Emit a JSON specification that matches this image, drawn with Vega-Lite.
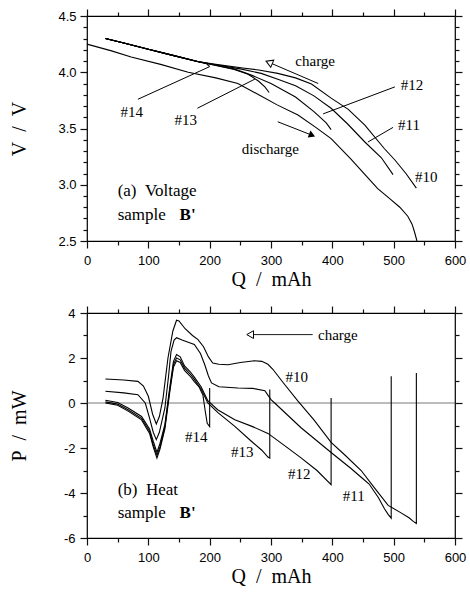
{
  "$schema": "https://vega.github.io/schema/vega-lite/v6.json",
  "background": "white",
  "padding": {"left": 8, "top": 7, "right": 5, "bottom": 5},
  "spacing": 14,
  "config": {
    "view": {"stroke": "black", "strokeWidth": 1.2, "fill": "transparent"},
    "axis": {
      "domain": false, "grid": false,
      "labelFont": "Liberation Sans", "labelFontSize": 13, "labelColor": "black",
      "labelFlush": false, "labelOverlap": false,
      "titleFont": "Liberation Serif", "titleFontSize": 20, "titleFontWeight": "normal", "titleColor": "black"
    },
    "text": {"font": "Liberation Serif", "color": "black"}
  },
  "datasets": {
    "volt": [
      {"s":"#14","Q":30,"V":4.30},{"s":"#14","Q":60,"V":4.26},{"s":"#14","Q":100,"V":4.205},{"s":"#14","Q":140,"V":4.15},{"s":"#14","Q":180,"V":4.095},{"s":"#14","Q":195,"V":4.075},{"s":"#14","Q":200,"V":4.05},
      {"s":"#13","Q":30,"V":4.30},{"s":"#13","Q":60,"V":4.26},{"s":"#13","Q":100,"V":4.205},{"s":"#13","Q":140,"V":4.15},{"s":"#13","Q":180,"V":4.095},{"s":"#13","Q":210,"V":4.06},{"s":"#13","Q":240,"V":4.025},{"s":"#13","Q":262,"V":3.985},{"s":"#13","Q":280,"V":3.92},{"s":"#13","Q":290,"V":3.87},{"s":"#13","Q":297,"V":3.82},
      {"s":"#12","Q":30,"V":4.30},{"s":"#12","Q":60,"V":4.26},{"s":"#12","Q":100,"V":4.205},{"s":"#12","Q":140,"V":4.15},{"s":"#12","Q":180,"V":4.095},{"s":"#12","Q":210,"V":4.063},{"s":"#12","Q":240,"V":4.03},{"s":"#12","Q":270,"V":3.97},{"s":"#12","Q":300,"V":3.90},{"s":"#12","Q":340,"V":3.78},{"s":"#12","Q":370,"V":3.65},{"s":"#12","Q":390,"V":3.55},{"s":"#12","Q":398,"V":3.49},
      {"s":"#11","Q":30,"V":4.30},{"s":"#11","Q":60,"V":4.26},{"s":"#11","Q":100,"V":4.205},{"s":"#11","Q":140,"V":4.15},{"s":"#11","Q":180,"V":4.095},{"s":"#11","Q":210,"V":4.066},{"s":"#11","Q":250,"V":4.03},{"s":"#11","Q":284,"V":3.99},{"s":"#11","Q":310,"V":3.94},{"s":"#11","Q":340,"V":3.88},{"s":"#11","Q":370,"V":3.79},{"s":"#11","Q":398,"V":3.68},{"s":"#11","Q":425,"V":3.54},{"s":"#11","Q":453,"V":3.38},{"s":"#11","Q":480,"V":3.24},{"s":"#11","Q":499,"V":3.09},
      {"s":"#10","Q":30,"V":4.30},{"s":"#10","Q":60,"V":4.26},{"s":"#10","Q":100,"V":4.205},{"s":"#10","Q":140,"V":4.15},{"s":"#10","Q":180,"V":4.095},{"s":"#10","Q":210,"V":4.07},{"s":"#10","Q":257,"V":4.035},{"s":"#10","Q":280,"V":4.02},{"s":"#10","Q":311,"V":3.99},{"s":"#10","Q":340,"V":3.95},{"s":"#10","Q":366,"V":3.895},{"s":"#10","Q":398,"V":3.77},{"s":"#10","Q":426,"V":3.67},{"s":"#10","Q":453,"V":3.53},{"s":"#10","Q":485,"V":3.32},{"s":"#10","Q":502,"V":3.22},{"s":"#10","Q":520,"V":3.10},{"s":"#10","Q":537,"V":2.97},
      {"s":"discharge","Q":0,"V":4.25},{"s":"discharge","Q":40,"V":4.19},{"s":"discharge","Q":72,"V":4.135},{"s":"discharge","Q":120,"V":4.07},{"s":"discharge","Q":165,"V":4.0},{"s":"discharge","Q":210,"V":3.95},{"s":"discharge","Q":246,"V":3.90},{"s":"discharge","Q":280,"V":3.80},{"s":"discharge","Q":310,"V":3.71},{"s":"discharge","Q":344,"V":3.62},{"s":"discharge","Q":373,"V":3.51},{"s":"discharge","Q":398,"V":3.41},{"s":"discharge","Q":430,"V":3.23},{"s":"discharge","Q":474,"V":2.965},{"s":"discharge","Q":495,"V":2.87},{"s":"discharge","Q":510,"V":2.80},{"s":"discharge","Q":523,"V":2.72},{"s":"discharge","Q":530,"V":2.65},{"s":"discharge","Q":534,"V":2.58},{"s":"discharge","Q":537,"V":2.52},{"s":"discharge","Q":538,"V":2.5}
    ],
    "heat": [
      {"s":"#10","Q":30,"P":1.07},{"s":"#10","Q":60,"P":1.02},{"s":"#10","Q":83,"P":0.96},{"s":"#10","Q":92,"P":0.75},{"s":"#10","Q":100,"P":0.3},{"s":"#10","Q":107,"P":-0.5},{"s":"#10","Q":113,"P":-0.93},{"s":"#10","Q":118,"P":-0.6},{"s":"#10","Q":124,"P":0.22},{"s":"#10","Q":132,"P":2.0},{"s":"#10","Q":140,"P":3.2},{"s":"#10","Q":146,"P":3.68},{"s":"#10","Q":150,"P":3.65},{"s":"#10","Q":160,"P":3.3},{"s":"#10","Q":172,"P":3.0},{"s":"#10","Q":181,"P":2.82},{"s":"#10","Q":190,"P":2.5},{"s":"#10","Q":198,"P":2.05},{"s":"#10","Q":205,"P":1.78},{"s":"#10","Q":215,"P":1.72},{"s":"#10","Q":230,"P":1.70},{"s":"#10","Q":250,"P":1.80},{"s":"#10","Q":273,"P":1.88},{"s":"#10","Q":285,"P":1.85},{"s":"#10","Q":295,"P":1.72},{"s":"#10","Q":303,"P":1.5},{"s":"#10","Q":320,"P":0.9},{"s":"#10","Q":344,"P":0.08},{"s":"#10","Q":370,"P":-0.75},{"s":"#10","Q":398,"P":-1.75},{"s":"#10","Q":420,"P":-2.3},{"s":"#10","Q":447,"P":-3.0},{"s":"#10","Q":469,"P":-3.78},{"s":"#10","Q":491,"P":-4.55},{"s":"#10","Q":510,"P":-4.85},{"s":"#10","Q":525,"P":-5.1},{"s":"#10","Q":532,"P":-5.26},{"s":"#10","Q":537,"P":-5.35},{"s":"#10","Q":537,"P":1.33},
      {"s":"#11","Q":30,"P":0.52},{"s":"#11","Q":60,"P":0.45},{"s":"#11","Q":83,"P":0.37},{"s":"#11","Q":95,"P":0.0},{"s":"#11","Q":102,"P":-0.67},{"s":"#11","Q":108,"P":-1.3},{"s":"#11","Q":113,"P":-1.63},{"s":"#11","Q":118,"P":-1.3},{"s":"#11","Q":127,"P":-0.22},{"s":"#11","Q":133,"P":1.2},{"s":"#11","Q":137,"P":2.3},{"s":"#11","Q":142,"P":2.8},{"s":"#11","Q":146,"P":2.9},{"s":"#11","Q":155,"P":2.8},{"s":"#11","Q":165,"P":2.7},{"s":"#11","Q":175,"P":2.6},{"s":"#11","Q":185,"P":2.2},{"s":"#11","Q":192,"P":1.7},{"s":"#11","Q":198,"P":1.2},{"s":"#11","Q":203,"P":0.89},{"s":"#11","Q":215,"P":0.72},{"s":"#11","Q":246,"P":0.67},{"s":"#11","Q":270,"P":0.65},{"s":"#11","Q":290,"P":0.55},{"s":"#11","Q":300,"P":0.15},{"s":"#11","Q":306,"P":0.0},{"s":"#11","Q":349,"P":-1.1},{"s":"#11","Q":398,"P":-2.2},{"s":"#11","Q":430,"P":-2.9},{"s":"#11","Q":447,"P":-3.3},{"s":"#11","Q":460,"P":-3.6},{"s":"#11","Q":475,"P":-4.2},{"s":"#11","Q":485,"P":-4.7},{"s":"#11","Q":491,"P":-4.95},{"s":"#11","Q":496,"P":-5.12},{"s":"#11","Q":496,"P":1.19},
      {"s":"#12","Q":30,"P":0.12},{"s":"#12","Q":50,"P":0.02},{"s":"#12","Q":67,"P":-0.22},{"s":"#12","Q":89,"P":-0.6},{"s":"#12","Q":102,"P":-1.15},{"s":"#12","Q":108,"P":-1.7},{"s":"#12","Q":114,"P":-2.2},{"s":"#12","Q":119,"P":-1.8},{"s":"#12","Q":127,"P":-0.95},{"s":"#12","Q":135,"P":0.7},{"s":"#12","Q":141,"P":1.85},{"s":"#12","Q":146,"P":2.15},{"s":"#12","Q":152,"P":2.05},{"s":"#12","Q":159,"P":1.65},{"s":"#12","Q":168,"P":1.4},{"s":"#12","Q":175,"P":1.15},{"s":"#12","Q":186,"P":0.72},{"s":"#12","Q":197,"P":0.1},{"s":"#12","Q":213,"P":-0.3},{"s":"#12","Q":241,"P":-0.74},{"s":"#12","Q":270,"P":-1.05},{"s":"#12","Q":295,"P":-1.35},{"s":"#12","Q":320,"P":-1.85},{"s":"#12","Q":349,"P":-2.44},{"s":"#12","Q":375,"P":-3.0},{"s":"#12","Q":398,"P":-3.63},{"s":"#12","Q":398,"P":0.22},
      {"s":"#13","Q":30,"P":0.05},{"s":"#13","Q":50,"P":-0.05},{"s":"#13","Q":67,"P":-0.3},{"s":"#13","Q":89,"P":-0.68},{"s":"#13","Q":102,"P":-1.25},{"s":"#13","Q":108,"P":-1.85},{"s":"#13","Q":114,"P":-2.33},{"s":"#13","Q":119,"P":-1.95},{"s":"#13","Q":127,"P":-1.05},{"s":"#13","Q":135,"P":0.6},{"s":"#13","Q":141,"P":1.72},{"s":"#13","Q":146,"P":2.0},{"s":"#13","Q":152,"P":1.92},{"s":"#13","Q":159,"P":1.55},{"s":"#13","Q":168,"P":1.3},{"s":"#13","Q":175,"P":1.05},{"s":"#13","Q":186,"P":0.62},{"s":"#13","Q":197,"P":0.0},{"s":"#13","Q":213,"P":-0.42},{"s":"#13","Q":241,"P":-1.04},{"s":"#13","Q":268,"P":-1.7},{"s":"#13","Q":285,"P":-2.1},{"s":"#13","Q":295,"P":-2.4},{"s":"#13","Q":298,"P":-2.45},{"s":"#13","Q":298,"P":0.6},
      {"s":"#14","Q":30,"P":0.0},{"s":"#14","Q":50,"P":-0.1},{"s":"#14","Q":67,"P":-0.36},{"s":"#14","Q":89,"P":-0.75},{"s":"#14","Q":102,"P":-1.35},{"s":"#14","Q":108,"P":-1.95},{"s":"#14","Q":114,"P":-2.45},{"s":"#14","Q":119,"P":-2.05},{"s":"#14","Q":127,"P":-1.15},{"s":"#14","Q":135,"P":0.5},{"s":"#14","Q":141,"P":1.6},{"s":"#14","Q":146,"P":1.88},{"s":"#14","Q":152,"P":1.8},{"s":"#14","Q":159,"P":1.45},{"s":"#14","Q":168,"P":1.2},{"s":"#14","Q":175,"P":0.95},{"s":"#14","Q":183,"P":0.7},{"s":"#14","Q":189,"P":0.35},{"s":"#14","Q":193,"P":-0.4},{"s":"#14","Q":196,"P":-0.9},{"s":"#14","Q":200,"P":-1.05},{"s":"#14","Q":200,"P":0.67}
    ],
    "vtext": [
      {"Q":530,"V":3.89,"t":"#12"},{"Q":525,"V":3.53,"t":"#11"},{"Q":553,"V":3.07,"t":"#10"},
      {"Q":73,"V":3.65,"t":"#14"},{"Q":161,"V":3.58,"t":"#13"},
      {"Q":372,"V":4.10,"t":"charge"},{"Q":299,"V":3.32,"t":"discharge"}
    ],
    "vlabel": [{"Q":50,"V":2.944,"t":"(a)\u00a0\u00a0Voltage"},{"Q":50,"V":2.734,"t":"sample"}],
    "vbold": [{"Q":151,"V":2.734,"t":"B'"}],
    "vlead": [
      {"Q":502,"V":3.87,"Q2":385,"V2":3.63},
      {"Q":499,"V":3.51,"Q2":458,"V2":3.38},
      {"Q":83,"V":3.76,"Q2":200,"V2":4.05},
      {"Q":180,"V":3.68,"Q2":274,"V2":3.94},
      {"Q":377,"V":3.90,"Q2":298,"V2":4.085},
      {"Q":311,"V":3.56,"Q2":367,"V2":3.44}
    ],
    "vhead1": [{"Q":297,"V":4.087}],
    "vhead2": [{"Q":367,"V":3.44}],
    "htext": [
      {"Q":342,"P":1.14,"t":"#10"},{"Q":178,"P":-1.5,"t":"#14"},{"Q":253,"P":-2.18,"t":"#13"},
      {"Q":346,"P":-3.17,"t":"#12"},{"Q":435,"P":-4.15,"t":"#11"},{"Q":409,"P":3.04,"t":"charge"}
    ],
    "hlabel": [{"Q":50,"P":-3.85,"t":"(b)\u00a0\u00a0Heat"},{"Q":50,"P":-4.88,"t":"sample"}],
    "hbold": [{"Q":151,"P":-4.88,"t":"B'"}],
    "hzero": [{"P":0}],
    "harrow": [{"Q":368,"P":3.04,"Q2":268,"P2":3.04}],
    "hhead": [{"Q":266,"P":3.04}]
  },
  "vconcat": [
    {
      "width": 368, "height": 225,
      "resolve": {"axis": {"x": "independent", "y": "independent"}},
      "layer": [
        {
          "data": {"name": "volt"},
          "mark": {"type": "line", "color": "black", "strokeWidth": 1.1},
          "encoding": {
            "x": {"field": "Q", "type": "quantitative", "scale": {"domain": [0, 600], "nice": false},
              "axis": {"orient": "bottom", "values": [0,100,200,300,400,500,600], "ticks": true, "tickColor": "#111111", "tickWidth": 1.2, "zindex": 2, "tickSize": 7,
                "labelPadding": 6, "title": "Q\u00a0\u00a0/\u00a0\u00a0mAh", "titlePadding": 2}},
            "y": {"field": "V", "type": "quantitative", "scale": {"domain": [2.5, 4.5], "nice": false, "zero": false},
              "axis": {"orient": "left", "values": [2.5,3.0,3.5,4.0,4.5], "format": ".1f", "ticks": true, "tickColor": "#111111", "tickWidth": 1.2, "zindex": 2, "tickSize": 7,
                "labelPadding": 4, "title": "V\u00a0\u00a0/\u00a0\u00a0V", "titlePadding": 28}},
            "detail": {"field": "s"},
            "strokeWidth": {"condition": {"test": "datum.s === 'discharge'", "value": 1.9}, "value": 1.1},
            "order": {"value": null}
          }
        },
        {
          "data": {"name": "vlead"},
          "mark": {"type": "rule", "color": "black", "strokeWidth": 1},
          "encoding": {
            "x": {"field": "Q", "type": "quantitative",
              "axis": {"orient": "bottom", "values": [50,150,250,350,450,550], "ticks": true, "tickColor": "#111111", "tickWidth": 1.2, "zindex": 2, "tickSize": 4, "labels": false, "title": null}},
            "y": {"field": "V", "type": "quantitative",
              "axis": {"orient": "left", "values": [2.6,2.7,2.8,2.9,3.1,3.2,3.3,3.4,3.6,3.7,3.8,3.9,4.1,4.2,4.3,4.4], "ticks": true, "tickColor": "#111111", "tickWidth": 1.2, "zindex": 2, "tickSize": 4, "labels": false, "title": null}},
            "x2": {"field": "Q2"}, "y2": {"field": "V2"}
          }
        },
        {
          "data": {"name": "vhead1"},
          "mark": {"type": "point", "shape": "triangle-up", "angle": 293, "size": 60, "filled": true, "fill": "white", "stroke": "black", "strokeWidth": 1, "opacity": 1},
          "encoding": {
            "x": {"field": "Q", "type": "quantitative",
              "axis": {"orient": "top", "values": [0,100,200,300,400,500,600], "ticks": true, "tickColor": "#111111", "tickWidth": 1.2, "zindex": 2, "tickSize": 7, "labels": false, "title": null}},
            "y": {"field": "V", "type": "quantitative",
              "axis": {"orient": "right", "values": [2.5,3.0,3.5,4.0,4.5], "ticks": true, "tickColor": "#111111", "tickWidth": 1.2, "zindex": 2, "tickSize": 7, "labels": false, "title": null}}
          }
        },
        {
          "data": {"name": "vhead2"},
          "mark": {"type": "point", "shape": "triangle-up", "angle": 111.5, "size": 55, "filled": true, "color": "black", "opacity": 1},
          "encoding": {
            "x": {"field": "Q", "type": "quantitative",
              "axis": {"orient": "top", "values": [50,150,250,350,450,550], "ticks": true, "tickColor": "#111111", "tickWidth": 1.2, "zindex": 2, "tickSize": 4, "labels": false, "title": null}},
            "y": {"field": "V", "type": "quantitative",
              "axis": {"orient": "right", "values": [2.6,2.7,2.8,2.9,3.1,3.2,3.3,3.4,3.6,3.7,3.8,3.9,4.1,4.2,4.3,4.4], "ticks": true, "tickColor": "#111111", "tickWidth": 1.2, "zindex": 2, "tickSize": 4, "labels": false, "title": null}}
          }
        },
        {
          "data": {"name": "vtext"},
          "mark": {"type": "text", "fontSize": 15, "align": "center", "baseline": "middle"},
          "encoding": {
            "x": {"field": "Q", "type": "quantitative", "axis": null},
            "y": {"field": "V", "type": "quantitative", "axis": null},
            "text": {"field": "t"}
          }
        },
        {
          "data": {"name": "vlabel"},
          "mark": {"type": "text", "fontSize": 17, "align": "left", "baseline": "middle"},
          "encoding": {
            "x": {"field": "Q", "type": "quantitative", "axis": null},
            "y": {"field": "V", "type": "quantitative", "axis": null},
            "text": {"field": "t"}
          }
        },
        {
          "data": {"name": "vbold"},
          "mark": {"type": "text", "fontSize": 17, "fontWeight": "bold", "align": "left", "baseline": "middle"},
          "encoding": {
            "x": {"field": "Q", "type": "quantitative", "axis": null},
            "y": {"field": "V", "type": "quantitative", "axis": null},
            "text": {"field": "t"}
          }
        }
      ]
    },
    {
      "width": 368, "height": 225,
      "resolve": {"axis": {"x": "independent", "y": "independent"}},
      "layer": [
        {
          "data": {"name": "hzero"},
          "mark": {"type": "rule", "color": "#555555", "strokeWidth": 0.8},
          "encoding": {
            "y": {"field": "P", "type": "quantitative", "axis": null}
          }
        },
        {
          "data": {"name": "heat"},
          "mark": {"type": "line", "color": "black", "strokeWidth": 1.1},
          "encoding": {
            "x": {"field": "Q", "type": "quantitative", "scale": {"domain": [0, 600], "nice": false},
              "axis": {"orient": "bottom", "values": [0,100,200,300,400,500,600], "ticks": true, "tickColor": "#111111", "tickWidth": 1.2, "zindex": 2, "tickSize": 7,
                "labelPadding": 6, "title": "Q\u00a0\u00a0/\u00a0\u00a0mAh", "titlePadding": 2}},
            "y": {"field": "P", "type": "quantitative", "scale": {"domain": [-6, 4], "nice": false, "zero": false},
              "axis": {"orient": "left", "values": [-6,-4,-2,0,2,4], "ticks": true, "tickColor": "#111111", "tickWidth": 1.2, "zindex": 2, "tickSize": 7,
                "labelExpr": "toString(datum.value)",
                "labelPadding": 5, "title": "P\u00a0\u00a0/\u00a0\u00a0mW", "titlePadding": 34}},
            "detail": {"field": "s"},
            "order": {"value": null}
          }
        },
        {
          "data": {"name": "harrow"},
          "mark": {"type": "rule", "color": "black", "strokeWidth": 0.9},
          "encoding": {
            "x": {"field": "Q", "type": "quantitative",
              "axis": {"orient": "bottom", "values": [50,150,250,350,450,550], "ticks": true, "tickColor": "#111111", "tickWidth": 1.2, "zindex": 2, "tickSize": 4, "labels": false, "title": null}},
            "y": {"field": "P", "type": "quantitative",
              "axis": {"orient": "left", "values": [-5,-3,-1,1,3], "ticks": true, "tickColor": "#111111", "tickWidth": 1.2, "zindex": 2, "tickSize": 4, "labels": false, "title": null}},
            "x2": {"field": "Q2"}, "y2": {"field": "P2"}
          }
        },
        {
          "data": {"name": "hhead"},
          "mark": {"type": "point", "shape": "triangle-up", "angle": 270, "size": 60, "filled": true, "fill": "white", "stroke": "black", "strokeWidth": 1, "opacity": 1},
          "encoding": {
            "x": {"field": "Q", "type": "quantitative",
              "axis": {"orient": "top", "values": [0,100,200,300,400,500,600], "ticks": true, "tickColor": "#111111", "tickWidth": 1.2, "zindex": 2, "tickSize": 7, "labels": false, "title": null}},
            "y": {"field": "P", "type": "quantitative",
              "axis": {"orient": "right", "values": [-6,-4,-2,0,2,4], "ticks": true, "tickColor": "#111111", "tickWidth": 1.2, "zindex": 2, "tickSize": 7, "labels": false, "title": null}}
          }
        },
        {
          "data": {"name": "htext"},
          "mark": {"type": "text", "fontSize": 15, "align": "center", "baseline": "middle"},
          "encoding": {
            "x": {"field": "Q", "type": "quantitative",
              "axis": {"orient": "top", "values": [50,150,250,350,450,550], "ticks": true, "tickColor": "#111111", "tickWidth": 1.2, "zindex": 2, "tickSize": 4, "labels": false, "title": null}},
            "y": {"field": "P", "type": "quantitative",
              "axis": {"orient": "right", "values": [-5,-3,-1,1,3], "ticks": true, "tickColor": "#111111", "tickWidth": 1.2, "zindex": 2, "tickSize": 4, "labels": false, "title": null}},
            "text": {"field": "t"}
          }
        },
        {
          "data": {"name": "hlabel"},
          "mark": {"type": "text", "fontSize": 17, "align": "left", "baseline": "middle"},
          "encoding": {
            "x": {"field": "Q", "type": "quantitative", "axis": null},
            "y": {"field": "P", "type": "quantitative", "axis": null},
            "text": {"field": "t"}
          }
        },
        {
          "data": {"name": "hbold"},
          "mark": {"type": "text", "fontSize": 17, "fontWeight": "bold", "align": "left", "baseline": "middle"},
          "encoding": {
            "x": {"field": "Q", "type": "quantitative", "axis": null},
            "y": {"field": "P", "type": "quantitative", "axis": null},
            "text": {"field": "t"}
          }
        }
      ]
    }
  ]
}
